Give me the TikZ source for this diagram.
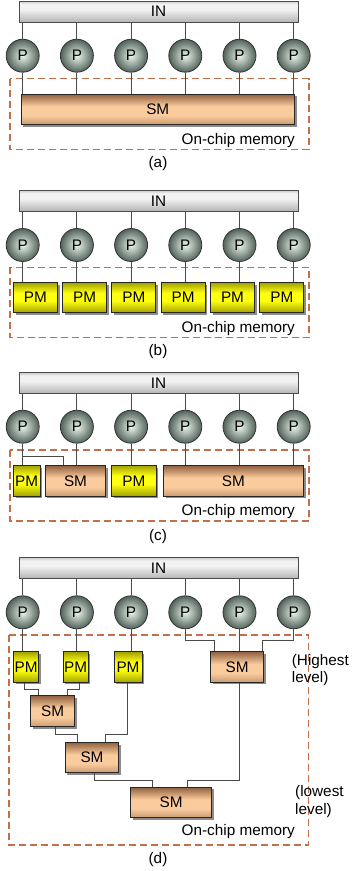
\documentclass[tikz,border=0pt]{standalone}
\usepackage{fontspec}
\setmainfont{Liberation Sans}
\usetikzlibrary{shadows,calc}
\definecolor{pdark}{HTML}{52625A}
\definecolor{plight}{HTML}{EAF6EC}
\definecolor{smtop}{HTML}{926140}
\definecolor{smmid}{HTML}{FACB9C}
\definecolor{smbot}{HTML}{C99B73}
\definecolor{pmdark}{HTML}{A3A300}
\definecolor{pmbright}{HTML}{FFFF10}
\definecolor{dashc}{HTML}{C2704A}
\definecolor{linec}{HTML}{4A4A4A}
\definecolor{inlo}{HTML}{B4B4B4}
\definecolor{inhi}{HTML}{F2F2F2}
\pgfdeclareverticalshading{smshade}{100bp}{color(0bp)=(smbot); color(25bp)=(smbot); color(40bp)=(smmid); color(55bp)=(smmid); color(75bp)=(smtop); color(100bp)=(smtop)}
\pgfdeclareverticalshading{pmshade}{100bp}{color(0bp)=(pmdark); color(25bp)=(pmdark); color(45bp)=(pmbright); color(58bp)=(pmbright); color(75bp)=(pmdark); color(100bp)=(pmdark)}
\pgfdeclareverticalshading{inshade}{100bp}{color(0bp)=(inlo); color(25bp)=(inlo); color(55bp)=(inhi); color(68bp)=(inhi); color(75bp)=(inlo!70); color(100bp)=(inlo!70)}
\newcommand\figfont{\fontsize{15.3}{17.3}\selectfont}
\begin{document}
\begin{tikzpicture}[x=1pt,y=-1pt,
  every node/.style={font=\figfont, inner sep=0pt, text=black},
  inbar/.style={rectangle, draw=black!70, line width=0.8pt, shading=inshade, minimum width=279pt, minimum height=21pt},
  proc/.style={circle, draw=black!80, line width=0.8pt, inner color=plight, outer color=pdark, minimum size=33pt},
  boxbase/.style={rectangle, draw=black!85, line width=0.9pt, drop shadow={shadow xshift=2.2pt, shadow yshift=-2.2pt, fill=black!45, opacity=1}},
  smbox/.style={boxbase, shading=smshade},
  pmbox/.style={boxbase, shading=pmshade},
  conn/.style={draw=linec, line width=0.9pt},
  memframe/.style={draw=dashc, line width=1.2pt, dash pattern=on 7pt off 4pt},
  memlabel/.style={anchor=base east},
  caption/.style={anchor=center}
]
\clip (0,0) rectangle (352,871);

% ================= (a) =================
\node[inbar] (INa) at (158.5,11.5) {IN};
\foreach \i/\x in {1/22.7,2/76.9,3/131.1,4/185.3,5/239.5,6/293.7}
  \node[proc] (Pa\i) at (\x,55.7) {P};
\draw[memframe] (10,78.7) rectangle (309,149.3);
\node[smbox, minimum width=273.5pt, minimum height=30.5pt] (SMa) at (157.75,109.3) {SM};
\foreach \i in {1,...,6}{
  \draw[conn] (Pa\i.north) -- (Pa\i.north |- INa.south);
  \draw[conn] (Pa\i.south) -- (Pa\i.south |- SMa.north);
}
\node[memlabel] (ocma) at (295,144.3) {On-chip memory};
\node[caption] (capa) at (158,164) {(a)};

% ================= (b) =================
\node[inbar] (INb) at (158.5,200.8) {IN};
\foreach \i/\x in {1/22.7,2/76.9,3/131.1,4/185.3,5/239.5,6/293.7}
  \node[proc] (Pb\i) at (\x,245) {P};
\draw[memframe] (10,267.3) rectangle (309,337.7);
\foreach \i/\x in {1/35.3,2/84.6,3/133.9,4/183.2,5/232.5,6/281.8}
  \node[pmbox, minimum width=44pt, minimum height=30pt] (PMb\i) at (\x,297.7) {PM};
\foreach \i in {1,...,6}{
  \draw[conn] (Pb\i.north) -- (Pb\i.north |- INb.south);
  \draw[conn] (Pb\i.south) -- (Pb\i.south |- PMb\i.north);
}
\node[memlabel] (ocmb) at (295,332.7) {On-chip memory};
\node[caption] (capb) at (158,352) {(b)};

% ================= (c) =================
\node[inbar] (INc) at (158.5,383.2) {IN};
\foreach \i/\x in {1/22.7,2/76.9,3/131.1,4/185.3,5/239.5,6/293.7}
  \node[proc] (Pc\i) at (\x,426.7) {P};
\draw[memframe] (10,450) rectangle (309,521);
\node[pmbox, minimum width=26.8pt, minimum height=30.5pt] (PMc1) at (26.7,480.8) {PM};
\node[smbox, minimum width=60.5pt, minimum height=30.5pt] (SMc1) at (75.5,480.8) {SM};
\node[pmbox, minimum width=44.3pt, minimum height=30.5pt] (PMc2) at (133.8,480.8) {PM};
\node[smbox, minimum width=140pt, minimum height=30.5pt] (SMc2) at (233.3,480.8) {SM};
\foreach \i in {1,...,6}
  \draw[conn] (Pc\i.north) -- (Pc\i.north |- INc.south);
\draw[conn] (Pc1.south) -- (Pc1.south |- PMc1.north);
\draw[conn] (Pc1.south |- 0,456) -| (SMc1.north -| 63.3,0);
\draw[conn] (Pc2.south) -- (Pc2.south |- SMc1.north);
\draw[conn] (Pc3.south) -- (Pc3.south |- PMc2.north);
\foreach \i in {4,5,6}
  \draw[conn] (Pc\i.south) -- (Pc\i.south |- SMc2.north);
\node[memlabel] (ocmc) at (295,515.5) {On-chip memory};
\node[caption] (capc) at (158,536.7) {(c)};

% ================= (d) =================
\node[inbar] (INd) at (158.5,568.1) {IN};
\foreach \i/\x in {1/22.7,2/76.9,3/131.1,4/185.3,5/239.5,6/293.7}
  \node[proc] (Pd\i) at (\x,612.3) {P};
\draw[memframe] (9,635) rectangle (308.3,845);
\node[pmbox, minimum width=25.5pt, minimum height=30.5pt] (PMd1) at (26.1,667) {PM};
\node[pmbox, minimum width=25pt, minimum height=30.5pt] (PMd2) at (75.6,667) {PM};
\node[pmbox, minimum width=28pt, minimum height=30.5pt] (PMd3) at (128,667) {PM};
\node[smbox, minimum width=53pt, minimum height=30.5pt] (SMd1) at (237.2,667) {SM};
\node[smbox, minimum width=43.8pt, minimum height=31pt] (SMd2) at (52.6,711.2) {SM};
\node[smbox, minimum width=53.5pt, minimum height=30.5pt] (SMd3) at (92,757.6) {SM};
\node[smbox, minimum width=81pt, minimum height=30.5pt] (SMd4) at (171.2,802.5) {SM};
\foreach \i in {1,...,6}
  \draw[conn] (Pd\i.north) -- (Pd\i.north |- INd.south);
\draw[conn] (Pd1.south) -- (Pd1.south |- PMd1.north);
\draw[conn] (Pd2.south) -- (Pd2.south |- PMd2.north);
\draw[conn] (Pd3.south) -- (Pd3.south |- PMd3.north);
\draw[conn] (Pd4.south) |- (214,640.7) -- (SMd1.north -| 214,0);
\draw[conn] (Pd5.south) -- (Pd5.south |- SMd1.north);
\draw[conn] (Pd6.south) |- (262.3,640.7) -- (SMd1.north -| 262.3,0);
\draw[conn] (PMd1.south -| 24.3,0) |- (38.3,689.3) -- (SMd2.north -| 38.3,0);
\draw[conn] (PMd2.south -| 79,0) |- (67.7,689.3) -- (SMd2.north -| 67.7,0);
\draw[conn] (SMd2.south -| 55.7,0) |- (77.7,734) -- (SMd3.north -| 77.7,0);
\draw[conn] (PMd3.south -| 127.3,0) |- (105.3,734) -- (SMd3.north -| 105.3,0);
\draw[conn] (SMd3.south -| 94.3,0) |- (152.3,780) -- (SMd4.north -| 152.3,0);
\draw[conn] (SMd1.south -| 239,0) |- (187.7,780) -- (SMd4.north -| 187.7,0);
\node[anchor=west, align=left] (hil) at (291.7,670.3) {(Highest\\level)};
\node[anchor=west, align=left] (lol) at (295,801.5) {(lowest\\level)};
\node[memlabel] (ocmd) at (295,835.3) {On-chip memory};
\node[caption] (capd) at (158,860) {(d)};
\end{tikzpicture}
\end{document}
